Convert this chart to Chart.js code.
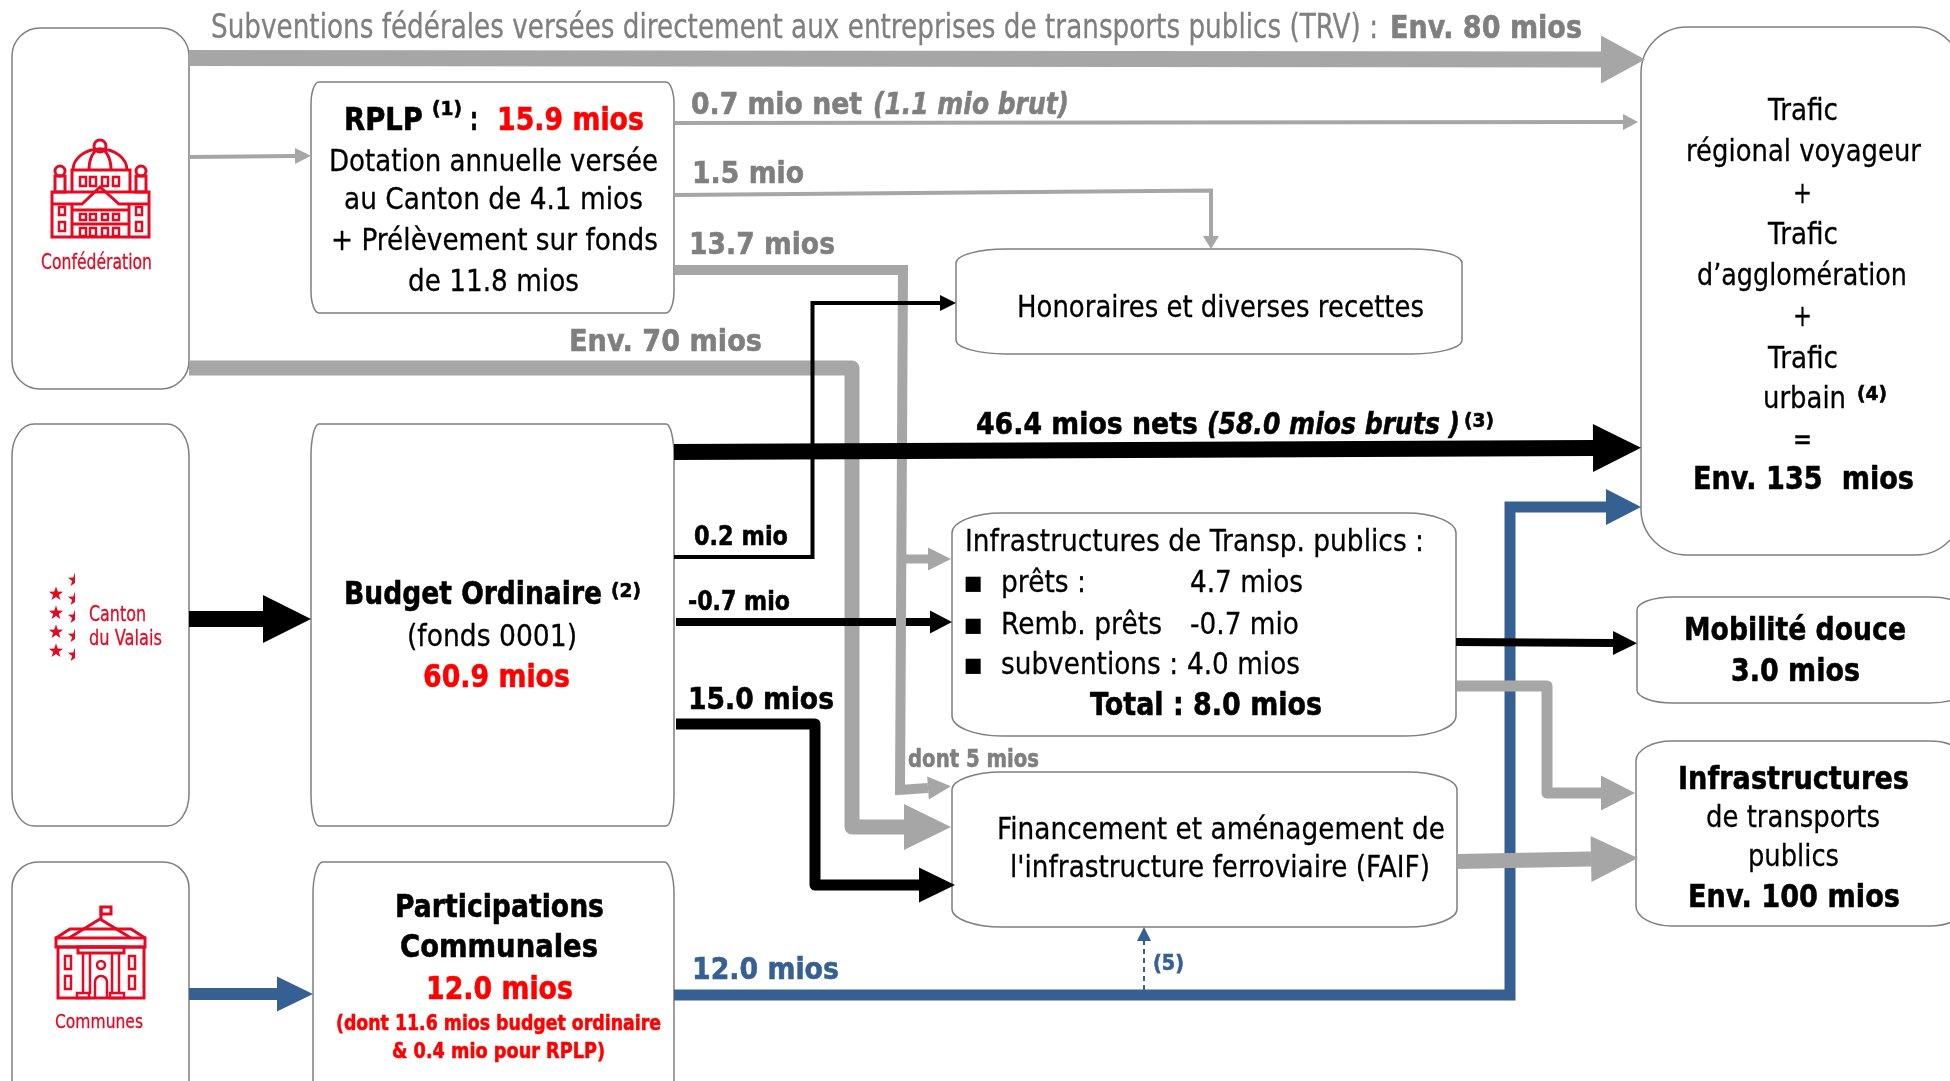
<!DOCTYPE html>
<html>
<head>
<meta charset="utf-8">
<title>Financement des transports publics</title>
<script src="https://cdn.jsdelivr.net/npm/chart.js@4"></script>
<style>
html, body { margin: 0; padding: 0; background: #fff; overflow: hidden; }
canvas { display: block; }
</style>
</head>
<body>
<canvas id="myChart" width="1950" height="1081"></canvas>
<script>
// Flux du schema, en millions
var fluxNoms = ['Subventions TRV', 'RPLP net trafic', 'RPLP honoraires', 'Communes vers trafic', 'Confédération FAIF',
  'Canton vers budget', 'Confédération vers RPLP', 'Remb. prêts', 'RPLP infrastructures', 'dont FAIF',
  'Honoraires', 'Budget vers FAIF', 'Budget vers trafic', 'Mobilité douce', 'Infrastructures', 'FAIF vers infrastructures',
  'Participations', 'Note 5'];
var fluxValeurs = [80, 0.7, 1.5, 12, 70, 60.9, 15.9, -0.7, 13.7, 5, 0.2, 15, 46.4, 3, 5, 95, 12, 0];

// Textes des boites
var textesBoites = ['RPLP', '(1)', ':', '15.9 mios', 'Dotation annuelle versée', 'au Canton de 4.1 mios', '+ Prélèvement sur fonds', 'de 11.8 mios',
  'Budget Ordinaire', '(2)', '(fonds 0001)', '60.9 mios',
  'Participations', 'Communales', '12.0 mios', '(dont 11.6 mios budget ordinaire', '& 0.4 mio pour RPLP)',
  'Honoraires et diverses recettes',
  'Infrastructures de Transp. publics :', '▪', 'prêts :', '4.7 mios', '▪', 'Remb. prêts', '-0.7 mio', '▪', 'subventions :', '4.0 mios', 'Total : 8.0 mios',
  'Financement et aménagement de', "l'infrastructure ferroviaire (FAIF)",
  'Trafic', 'régional voyageur', '+', 'Trafic', 'd’agglomération', '+', 'Trafic', 'urbain', '(4)', '=', 'Env. 135  mios',
  'Mobilité douce', '3.0 mios',
  'Infrastructures', 'de transports', 'publics', 'Env. 100 mios',
  'Confédération', 'Canton', 'du Valais', 'Communes'];

// Textes des flux
var textesFlux = ['Subventions fédérales versées directement aux entreprises de transports publics (TRV) :', 'Env. 80 mios',
  '0.7 mio net', '(1.1 mio brut)', '1.5 mio', '13.7 mios', 'Env. 70 mios',
  '46.4 mios nets', '(58.0 mios bruts )', '(3)',
  '0.2 mio', '-0.7 mio', '15.0 mios', 'dont 5 mios', '12.0 mios', '(5)'];

var NOIR = '#000000', GRIS = '#A6A6A6', GRIS_TEXTE = '#7F7F7F', ROUGE = '#FF0000', BLEU = '#376092', ROUGE_ICONE = '#E30A22';

// Position des textes: x debut, x fin, ligne de base, taille, style, couleur
var placeBoites = [
  [344, 423, 130, 32, 'b', NOIR], [432, 462, 115, 20, 'b', NOIR], [470, 478, 130, 32, 'b', NOIR], [497, 644, 130, 32, 'b', ROUGE],
  [329, 658, 171, 31, 'n', NOIR], [344, 643, 209, 31, 'n', NOIR], [331, 658, 250, 31, 'n', NOIR], [408, 579, 291, 31, 'n', NOIR],
  [344, 602, 604, 32, 'b', NOIR], [611, 641, 597, 20, 'b', NOIR], [407, 577, 646, 31, 'n', NOIR], [423, 570, 687, 32, 'b', ROUGE],
  [395, 604, 917, 32, 'b', NOIR], [400, 598, 957, 32, 'b', NOIR], [426, 573, 999, 32, 'b', ROUGE], [336, 661, 1030, 22, 'b', ROUGE], [392, 605, 1058, 22, 'b', ROUGE],
  [1017, 1424, 317, 31, 'n', NOIR],
  [965, 1424, 551, 31, 'n', NOIR], [963, 983, 592, 30, 'n', NOIR], [1001, 1086, 592, 31, 'n', NOIR], [1190, 1303, 592, 31, 'n', NOIR],
  [963, 983, 634, 30, 'n', NOIR], [1001, 1162, 634, 31, 'n', NOIR], [1190, 1299, 634, 31, 'n', NOIR],
  [963, 983, 674, 30, 'n', NOIR], [1001, 1178, 674, 31, 'n', NOIR], [1187, 1300, 674, 31, 'n', NOIR], [1090, 1322, 715, 32, 'b', NOIR],
  [997, 1445, 839, 31, 'n', NOIR], [1010, 1430, 877, 31, 'n', NOIR],
  [1768, 1838, 120, 31, 'n', NOIR], [1686, 1921, 161, 31, 'n', NOIR], [1793, 1812, 203, 31, 'n', NOIR], [1768, 1838, 244, 31, 'n', NOIR],
  [1697, 1907, 285, 31, 'n', NOIR], [1793, 1812, 326, 31, 'n', NOIR], [1768, 1838, 368, 31, 'n', NOIR], [1763, 1846, 408, 31, 'n', NOIR],
  [1857, 1887, 400, 20, 'b', NOIR], [1793, 1812, 449, 31, 'n', NOIR], [1693, 1914, 489, 32, 'b', NOIR],
  [1684, 1906, 640, 32, 'b', NOIR], [1731, 1860, 681, 32, 'b', NOIR],
  [1678, 1909, 789, 32, 'b', NOIR], [1706, 1880, 827, 31, 'n', NOIR], [1748, 1839, 866, 31, 'n', NOIR], [1688, 1900, 907, 32, 'b', NOIR],
  [41, 152, 269, 21, 'n', ROUGE_ICONE], [89, 146, 621, 21, 'n', ROUGE_ICONE], [89, 162, 645, 21, 'n', ROUGE_ICONE], [55, 143, 1028, 20, 'n', ROUGE_ICONE]
];

var placeFlux = [
  [211, 1378, 38, 33, 'n', GRIS_TEXTE], [1390, 1582, 38, 32, 'b', GRIS_TEXTE],
  [691, 862, 114, 31, 'b', GRIS_TEXTE], [873, 1069, 114, 31, 'bi', GRIS_TEXTE], [692, 804, 183, 31, 'b', GRIS_TEXTE],
  [689, 835, 254, 31, 'b', GRIS_TEXTE], [569, 762, 351, 31, 'b', GRIS_TEXTE],
  [976, 1198, 434, 31, 'b', NOIR], [1207, 1460, 434, 31, 'bi', NOIR], [1464, 1494, 427, 20, 'b', NOIR],
  [694, 788, 545, 26, 'b', NOIR], [688, 790, 610, 26, 'b', NOIR], [688, 834, 709, 31, 'b', NOIR],
  [908, 1039, 767, 25, 'b', GRIS_TEXTE], [692, 839, 979, 31, 'b', BLEU], [1153, 1184, 970, 21, 'b', BLEU]
];

// Boites: x1, y1, x2, y2, rayon x, rayon y
var boites = [
  [12, 28, 189, 389, 28, 28], [311, 82, 674, 313, 8, 22],
  [12, 424, 189, 826, 22, 32], [311, 424, 674, 826, 8, 32],
  [12, 862, 189, 1120, 26, 26], [313, 862, 674, 1120, 10, 32],
  [956, 249, 1462, 354, 50, 14], [952, 513, 1456, 736, 50, 20], [952, 772, 1457, 927, 50, 18],
  [1641, 27, 1962, 555, 46, 46], [1637, 597, 1966, 703, 36, 13], [1636, 741, 1966, 926, 36, 20]
];

// Traces des fleches, la pointe part du dernier point
var traces = [
  [[189, 58], [1601, 59.5]],
  [[675, 123], [1623, 122]],
  [[675, 195], [1211, 190.5], [1211, 236]],
  [[674, 995], [1510, 995], [1510, 507], [1606, 507]],
  [[189, 368], [852, 368], [852, 827], [904, 827]],
  [[189, 619], [263, 619]],
  [[189, 157], [295, 156]],
  [[676, 622], [930, 622]],
  [[675, 270], [903, 270], [900, 790], [928, 788]],
  [[903, 559], [928, 559]],
  [[674, 557], [812.5, 557], [812.5, 303], [940, 303]],
  [[676, 724], [815, 724], [815, 885], [919, 885]],
  [[674, 452], [1593, 448]],
  [[1456, 642], [1613, 643]],
  [[1457, 686], [1547, 686], [1547, 793], [1601, 793]],
  [[1457, 861.5], [1591, 859]],
  [[189, 994], [277, 994]],
  [[1144, 990], [1144, 941]]
];

// Style des fleches: epaisseur, couleur, longueur pointe, demi largeur pointe, jointure
var stylesTraces = [
  [16, GRIS, 44, 24, 'miter'], [4, GRIS, 15, 8, 'miter'], [4, GRIS, 13, 8, 'miter'], [11, BLEU, 35, 18, 'miter'],
  [15, GRIS, 47, 23, 'round'], [16, NOIR, 48, 24, 'miter'], [4, GRIS, 16, 8, 'miter'], [8, NOIR, 22, 11.5, 'miter'],
  [10, GRIS, 23, 11.5, 'miter'], [9, GRIS, 23, 11.5, 'miter'], [4, NOIR, 16, 8, 'miter'], [11, NOIR, 36, 17.5, 'round'],
  [16, NOIR, 48, 24, 'miter'], [8, NOIR, 24, 12, 'miter'], [11, GRIS, 34, 17.5, 'round'], [15, GRIS, 47, 23, 'miter'],
  [12, BLEU, 36, 17.5, 'miter'], [2, BLEU, 14, 7, 'miter']
];

function px(chart, x) { return chart.scales.x.getPixelForValue(x); }
function py(chart, y) { return chart.scales.y.getPixelForValue(y); }

// Texte cale sur la largeur lue dans le schema
function dessineTextes(chart, textes, places) {
  var ctx = chart.ctx;
  textes.forEach(function(t, i) {
    var p = places[i];
    var x0 = px(chart, p[0]), x1 = px(chart, p[1]), y = py(chart, p[2]);
    var gras = p[4].indexOf('b') >= 0;
    var graisse = gras ? 'bold ' : '';
    var penche = p[4].indexOf('i') >= 0 ? 'italic ' : '';
    ctx.save();
    ctx.font = penche + graisse + p[3] + 'px "DejaVu Sans"';
    ctx.fillStyle = p[5];
    ctx.strokeStyle = p[5];
    ctx.lineWidth = gras ? 0.6 : 0.3;
    ctx.textBaseline = 'alphabetic';
    ctx.textAlign = 'left';
    ctx.translate(x0, y);
    ctx.scale((x1 - x0) / ctx.measureText(t).width, 1);
    ctx.fillText(t, 0, 0);
    ctx.strokeText(t, 0, 0);
    ctx.restore();
  });
}

function dessineBoite(chart, b) {
  var ctx = chart.ctx;
  var x1 = px(chart, b[0]), y1 = py(chart, b[1]), x2 = px(chart, b[2]), y2 = py(chart, b[3]);
  var rx = b[4], ry = b[5];
  ctx.beginPath();
  ctx.moveTo(x1 + rx, y1);
  ctx.lineTo(x2 - rx, y1);
  ctx.ellipse(x2 - rx, y1 + ry, rx, ry, 0, -Math.PI / 2, 0);
  ctx.lineTo(x2, y2 - ry);
  ctx.ellipse(x2 - rx, y2 - ry, rx, ry, 0, 0, Math.PI / 2);
  ctx.lineTo(x1 + rx, y2);
  ctx.ellipse(x1 + rx, y2 - ry, rx, ry, 0, Math.PI / 2, Math.PI);
  ctx.lineTo(x1, y1 + ry);
  ctx.ellipse(x1 + rx, y1 + ry, rx, ry, 0, Math.PI, Math.PI * 1.5);
  ctx.closePath();
  ctx.fillStyle = '#fff';
  ctx.fill();
  ctx.lineWidth = 1.5;
  ctx.strokeStyle = '#7F7F7F';
  ctx.stroke();
}

function rect(ctx, x1, y1, x2, y2) { ctx.strokeRect(x1, y1, x2 - x1, y2 - y1); }
function ligne(ctx, pts) {
  ctx.beginPath();
  pts.forEach(function(p, i) { if (i == 0) ctx.moveTo(p[0], p[1]); else ctx.lineTo(p[0], p[1]); });
  ctx.stroke();
}

function iconeConfederation(ctx) {
  ctx.lineWidth = 3;
  rect(ctx, 52, 192, 149, 237);
  ligne(ctx, [[52, 204], [82, 204], [100, 187], [119, 204], [149, 204]]);
  ligne(ctx, [[72, 192], [72, 170], [130, 170], [130, 192]]);
  ctx.beginPath(); ctx.ellipse(100, 170, 27, 21, 0, Math.PI, 0); ctx.stroke();
  ctx.beginPath(); ctx.ellipse(100, 170, 11, 21, 0, Math.PI, 0); ctx.stroke();
  ctx.beginPath(); ctx.arc(100, 146, 6, 0, Math.PI * 2); ctx.stroke();
  ctx.beginPath(); ctx.arc(60, 171, 5, 0, Math.PI * 2); ctx.stroke();
  ctx.beginPath(); ctx.arc(141, 171, 5, 0, Math.PI * 2); ctx.stroke();
  rect(ctx, 55, 176, 65, 192);
  rect(ctx, 136, 176, 146, 192);
  ligne(ctx, [[72, 210], [129, 210]]);
  ligne(ctx, [[72, 224], [129, 224]]);
  ligne(ctx, [[72, 204], [72, 237]]);
  ligne(ctx, [[129, 204], [129, 237]]);
  ctx.lineWidth = 2.5;
  [80, 90, 102, 113].forEach(function(x) {
    rect(ctx, x, 177, x + 6, 186);
    rect(ctx, x, 214, x + 6, 220);
    rect(ctx, x, 228, x + 6, 236);
  });
  [59, 136].forEach(function(x) {
    rect(ctx, x, 207, x + 6, 215);
    rect(ctx, x, 222, x + 6, 231);
  });
}

function iconeCommunes(ctx) {
  ctx.lineWidth = 3;
  ligne(ctx, [[101, 920], [101, 906]]);
  rect(ctx, 101, 907, 111, 914);
  ligne(ctx, [[69, 938], [100, 919], [131, 938]]);
  ligne(ctx, [[56, 938], [70, 929], [131, 929], [145, 938]]);
  rect(ctx, 56, 938, 145, 947);
  rect(ctx, 58, 947, 144, 998);
  rect(ctx, 78, 947, 124, 953);
  ctx.lineWidth = 2.5;
  [83, 90, 112, 119].forEach(function(x) { ligne(ctx, [[x, 953], [x, 994]]); });
  rect(ctx, 77, 993, 89, 998);
  rect(ctx, 110, 993, 124, 998);
  ctx.beginPath(); ctx.arc(101, 965, 4, 0, Math.PI * 2); ctx.stroke();
  ctx.beginPath(); ctx.moveTo(95, 998); ctx.lineTo(95, 982); ctx.arc(101, 982, 6, Math.PI, 0); ctx.lineTo(107, 998); ctx.stroke();
  [65, 129].forEach(function(x) {
    rect(ctx, x, 956, x + 6, 969);
    rect(ctx, x, 976, x + 6, 989);
  });
}

function etoile(ctx, x, y, r) {
  ctx.beginPath();
  for (var i = 0; i < 10; i++) {
    var a = -Math.PI / 2 + i * Math.PI / 5;
    var d = i % 2 == 0 ? r : r * 0.4;
    ctx.lineTo(x + d * Math.cos(a), y + d * Math.sin(a));
  }
  ctx.closePath();
  ctx.fill();
}

function iconeValais(ctx) {
  [594, 613, 632, 651].forEach(function(y) { etoile(ctx, 56, y, 7.5); });
  ctx.save();
  ctx.beginPath();
  ctx.rect(60, 570, 15, 95);
  ctx.clip();
  [580, 599, 617, 636, 655].forEach(function(y) { etoile(ctx, 75, y, 7.5); });
  ctx.restore();
}

var schemaPlugin = {
  id: 'schema',
  beforeDatasetsDraw: function(chart) {
    boites.forEach(function(b) { dessineBoite(chart, b); });
  },
  // pointe dessinee juste apres son trace pour garder les croisements
  afterDatasetDraw: function(chart, args) {
    var ds = chart.data.datasets[args.index];
    var n = ds.data.length;
    var a = ds.data[n - 2], b = ds.data[n - 1];
    var xa = px(chart, a.x), ya = py(chart, a.y), xb = px(chart, b.x), yb = py(chart, b.y);
    var ang = Math.atan2(yb - ya, xb - xa);
    var ctx = chart.ctx;
    ctx.save();
    ctx.translate(xb, yb);
    ctx.rotate(ang);
    ctx.beginPath();
    ctx.moveTo(0, -ds.demiPointe);
    ctx.lineTo(ds.longPointe, 0);
    ctx.lineTo(0, ds.demiPointe);
    ctx.closePath();
    ctx.fillStyle = ds.borderColor;
    ctx.fill();
    ctx.restore();
  },
  afterDatasetsDraw: function(chart) {
    var ctx = chart.ctx;
    ctx.save();
    ctx.strokeStyle = ROUGE_ICONE;
    ctx.fillStyle = ROUGE_ICONE;
    ctx.translate(px(chart, 0), py(chart, 0));
    iconeConfederation(ctx);
    iconeCommunes(ctx);
    iconeValais(ctx);
    ctx.restore();
    dessineTextes(chart, textesBoites, placeBoites);
    dessineTextes(chart, textesFlux, placeFlux);
  }
};

var datasets = traces.map(function(t, i) {
  var s = stylesTraces[i];
  return {
    label: fluxNoms[i] + ' : ' + fluxValeurs[i],
    data: t.map(function(p) { return { x: p[0], y: p[1] }; }),
    showLine: true,
    tension: 0,
    fill: false,
    pointRadius: 0,
    borderWidth: s[0],
    borderColor: s[1],
    backgroundColor: s[1],
    longPointe: s[2],
    demiPointe: s[3],
    borderJoinStyle: s[4],
    borderCapStyle: 'butt',
    borderDash: i == traces.length - 1 ? [5, 4] : [],
    order: traces.length - i
  };
});

var ctx = document.getElementById('myChart').getContext('2d');
var myChart = new Chart(ctx, {
  type: 'scatter',
  data: { datasets: datasets },
  plugins: [schemaPlugin],
  options: {
    responsive: false,
    animation: false,
    layout: { padding: 0 },
    plugins: { legend: { display: false }, tooltip: { enabled: false }, title: { display: false } },
    scales: {
      x: { type: 'linear', min: 0, max: 1950, display: false },
      y: { type: 'linear', min: 0, max: 1081, reverse: true, display: false }
    }
  }
});
</script>
</body>
</html>
